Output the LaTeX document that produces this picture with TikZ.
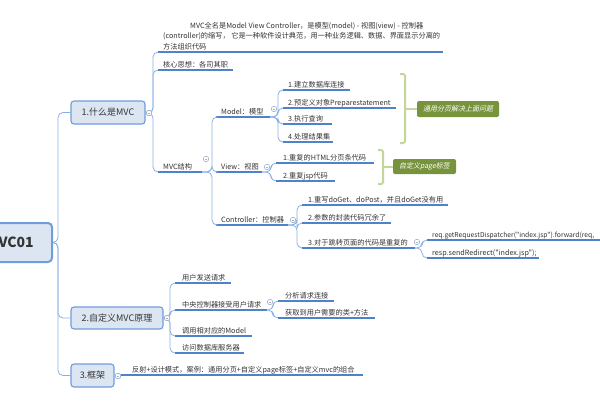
\documentclass[tikz,border=0pt]{standalone}
\usepackage{fontspec}
\setmainfont{Noto Sans CJK SC}[Ligatures=TeXOff]
\newfontfamily\tagfont[FakeSlant=0.2]{Noto Sans CJK SC}

\definecolor{linec}{HTML}{8AB0E3}
\definecolor{ulc}{HTML}{4F82CB}
\definecolor{boxfill}{HTML}{DCE6F2}
\definecolor{boxdraw}{HTML}{6F9CDA}
\definecolor{brk}{HTML}{C4D79B}
\definecolor{tagc}{HTML}{77933C}
\definecolor{txt}{HTML}{333333}
\definecolor{markc}{HTML}{9DB3CF}

% name, start x, text x, end x, line y, text
\newcommand{\subtopic}[6]{%
  \coordinate (#1-s) at (#2,#5);
  \coordinate (#1-e) at (#4,#5);
  \draw[uline] (#1-s) -- (#1-e);
  \node[leaf] (#1) at (#3,#5-3) {#6};
}

\begin{document}
\begin{tikzpicture}[x=1pt,y=-1pt]

    % Styles
    \tikzset{
      conn/.style={draw=linec, line width=0.8pt, rounded corners=5pt},
      uline/.style={draw=ulc, line width=1.3pt},
      leaf/.style={anchor=base west, inner sep=0pt, text=txt,
        font=\fontsize{7.2}{8}\selectfont},
      topicbox/.style={draw=boxdraw, fill=boxfill, line width=1.1pt,
        rounded corners=3pt, text=txt, font=\fontsize{9}{10}\selectfont,
        minimum height=23pt, inner sep=0pt},
      rootbox/.style={topicbox, line width=2pt, rounded corners=4pt,
        font=\fontsize{14}{15}\selectfont\bfseries},
      marker/.style={circle, draw=markc, fill=white, line width=0.6pt,
        inner sep=0pt, minimum size=5.5pt,
        path picture={\draw[markc, line width=0.5pt]
          ([xshift=-1.4pt]path picture bounding box.center) --
          ([xshift=1.4pt]path picture bounding box.center);}},
      bracket/.style={draw=brk, line width=2pt},
      tag/.style={fill=tagc, rounded corners=2pt, text=white, inner sep=0pt,
        font=\tagfont\fontsize{7}{8}\selectfont, minimum height=16pt}
    }

    \useasboundingbox (0,0) rectangle (600,400);
    \clip (0,0) rectangle (600,400);

    % root and main topics
    \node[rootbox, minimum width=84pt, minimum height=39pt] (root) at (10,242.5) {MVC01};
    \node[topicbox, minimum width=74pt] (b1) at (108,112.5) {1.什么是MVC};
    \node[topicbox, minimum width=92pt, minimum height=22pt] (b2) at (117,318) {2.自定义MVC原理};
    \node[topicbox, minimum width=43pt] (b3) at (92.5,375.5) {3.框架};

    \coordinate (t0) at (58,0);
    \foreach \b in {b1,b2,b3}
        \draw[conn] (root.east) -- (root.east -| t0) |- (\b.west);

    % markers of the main topics
    \node[marker] (b1m) at (149,113) {};
    \node[marker] (b2m) at (167,318) {};
    \node[marker] (b3m) at (118,376) {};

    % 1. what is MVC
    \coordinate (t1) at (153,0);
    \subtopic{d1}{158}{163}{443}{52}{方法组织代码}
    \node[leaf] (d1a) at (190,28) {MVC全名是Model View Controller，是模型(model) - 视图(view) - 控制器};
    \node[leaf] (d1b) at (163,38.5) {(controller)的缩写， 它是一种软件设计典范，用一种业务逻辑、数据、界面显示分离的};
    \subtopic{d2}{158}{163}{233}{70}{核心思想：各司其职}
    \subtopic{d3}{158}{163}{202}{172}{MVC结构}
    \foreach \c in {d1,d2,d3}
        \draw[conn] (b1m.center) -- (b1m.center -| t1) |- (\c-s);

    % MVC structure
    \coordinate (t2) at (212,0);
    \subtopic{mo}{216}{221}{270}{117}{Model：模型}
    \subtopic{vi}{216}{221}{262}{172}{View：视图}
    \subtopic{co}{216}{221}{288}{225}{Controller：控制器}
    \foreach \c in {mo,vi,co}
        \draw[conn] (d3-e) -- (d3-e -| t2) |- (\c-s);

    % model
    \coordinate (t3) at (278,0);
    \subtopic{m1}{283}{288}{350}{90}{1.建立数据库连接}
    \subtopic{m2}{283}{288}{396}{108}{2.预定义对象Preparestatement}
    \subtopic{m3}{283}{288}{332}{124}{3.执行查询}
    \subtopic{m4}{283}{288}{333}{142}{4.处理结果集}
    \foreach \c in {m1,m2,m3,m4}
        \draw[conn] (mo-e) -- (mo-e -| t3) |- (\c-s);

    % view
    \coordinate (t4) at (271,0);
    \subtopic{v1}{276}{283}{374}{163}{1.重复的HTML分页条代码}
    \subtopic{v2}{276}{283}{335}{181}{2.重复jsp代码}
    \foreach \c in {v1,v2}
        \draw[conn] (vi-e) -- (vi-e -| t4) |- (\c-s);

    % controller
    \coordinate (t5) at (297,0);
    \subtopic{c1}{302}{308}{448}{205}{1.重写doGet、doPost，并且doGet没有用}
    \subtopic{c2}{302}{308}{391}{223}{2.参数的封装代码冗余了}
    \subtopic{c3}{302}{308}{415}{248}{3.对于跳转页面的代码是重复的}
    \foreach \c in {c1,c2,c3}
        \draw[conn] (co-e) -- (co-e -| t5) |- (\c-s);

    % page jumps
    \coordinate (t6) at (422,0);
    \subtopic{r1}{427}{432}{610}{240}{\fontsize{6.75}{8}\selectfont req.getRequestDispatcher("index.jsp").forward(req,}
    \subtopic{r2}{427}{432}{539}{258}{resp.sendRedirect("index.jsp");}
    \foreach \c in {r1,r2}
        \draw[conn] (c3-e) -- (c3-e -| t6) |- (\c-s);

    % 2. custom MVC
    \coordinate (t7) at (170,0);
    \subtopic{p1}{175}{182}{231}{283}{用户发送请求}
    \subtopic{p2}{175}{182}{267}{310}{中央控制器接受用户请求}
    \subtopic{p3}{175}{182}{252}{336}{调用相对应的Model}
    \subtopic{p4}{175}{182}{244}{353}{访问数据库服务器}
    \foreach \c in {p1,p2,p3,p4}
        \draw[conn] (b2m.center) -- (b2m.center -| t7) |- (\c-s);

    \coordinate (t8) at (273,0);
    \subtopic{q1}{278}{285}{334}{301}{分析请求连接}
    \subtopic{q2}{278}{285}{375}{318}{获取到用户需要的类+方法}
    \foreach \c in {q1,q2}
        \draw[conn] (p2-e) -- (p2-e -| t8) |- (\c-s);

    % 3. framework
    \subtopic{f1}{121}{132}{363}{375}{反射+设计模式，案例：通用分页+自定义page标签+自定义mvc的组合}
    \draw[conn] (b3m.center) -- (f1-s);

    % summary brackets
    \node[tag, minimum width=82pt] (tag1) at (458,109) {通用分页解决上面问题};
    \node[tag, minimum width=63pt, minimum height=15pt] (tag2) at (424.5,166.5) {自定义page标签};
    \coordinate (bk1) at (405,109);
    \coordinate (bk2) at (383,166.5);
    \draw[bracket, rounded corners=1.5pt] (400,74) -- (405,74) -- (405,143) -- (400,143);
    \draw[bracket] (bk1) -- (tag1.west);
    \draw[bracket, rounded corners=1.5pt] (378,150) -- (383,150) -- (383,184) -- (378,184);
    \draw[bracket] (bk2) -- (tag2.west);

    % markers of the sub topics
    \node[marker] (b1m) at (149,113) {};
    \node[marker] (b2m) at (167,318) {};
    \node[marker] (b3m) at (118,376) {};
    \node[marker] (d3m) at (206,159) {};
    \node[marker] (mom) at (274,109) {};
    \node[marker] (vim) at (267,167) {};
    \node[marker] (com) at (293,220) {};
    \node[marker] (c3m) at (417,242) {};
    \node[marker] (p2m) at (270,302) {};

\end{tikzpicture}
\end{document}
